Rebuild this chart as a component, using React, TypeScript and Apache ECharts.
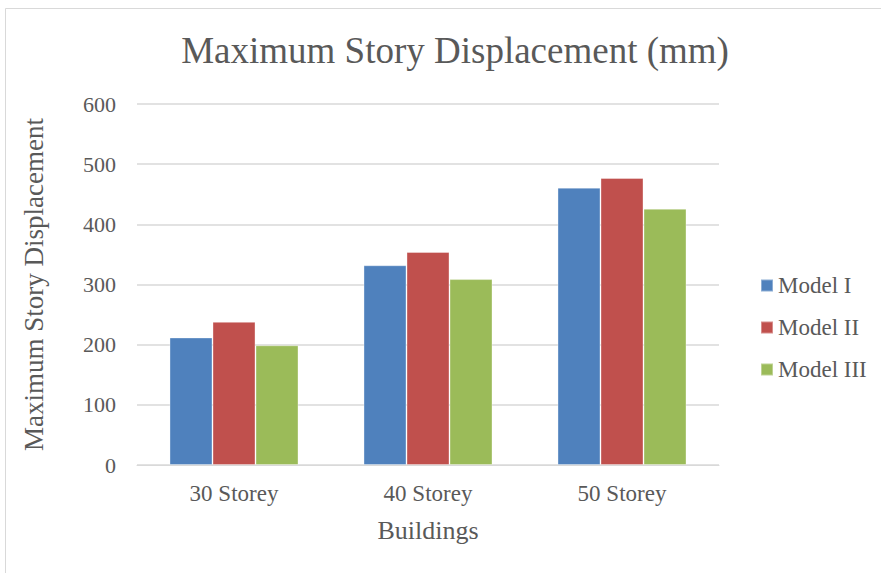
import React, { useEffect, useRef } from "react";
import * as echarts from "echarts";

const categories = ["30 Storey", "40 Storey", "50 Storey"];
const modelI = [212, 332, 461];
const modelII = [238, 354, 477];
const modelIII = [199, 309, 426];
const seriesNames = ["Model I", "Model II", "Model III"];
const colors = ["#4F81BD", "#C0504D", "#9BBB59"];

export default function App() {
  const ref = useRef<HTMLDivElement>(null);
  useEffect(() => {
    const chart = echarts.init(ref.current!, null, { renderer: "svg" });
    const font = "Liberation Serif";
    const data = [modelI, modelII, modelIII];
    chart.setOption({
      animation: false,
      backgroundColor: "#ffffff",
      textStyle: { fontFamily: font },
      title: {
        text: "Maximum Story Displacement (mm)",
        left: 450,
        textAlign: "center",
        top: 27,
        textStyle: { fontFamily: font, fontSize: 37, fontWeight: "normal", color: "#595959" },
      },
      graphic: [
        {
          type: "rect",
          shape: { x: 5.5, y: 8.5, width: 880, height: 570 },
          style: { fill: "none", stroke: "#d9d9d9", lineWidth: 1 },
          silent: true,
        },
      ],
      legend: {
        orient: "vertical",
        left: 755,
        top: 269,
        itemGap: 19,
        itemWidth: 12,
        itemHeight: 12,
        icon: "rect",
        textStyle: { fontFamily: font, fontSize: 23, color: "#595959" },
        data: seriesNames,
      },
      grid: { left: 137, right: 162, top: 104, bottom: 108, containLabel: false },
      xAxis: {
        type: "category",
        data: categories,
        name: "Buildings",
        nameLocation: "middle",
        nameGap: 52,
        nameTextStyle: { fontFamily: font, fontSize: 26, color: "#595959" },
        axisLine: { lineStyle: { color: "#d9d9d9", width: 1 } },
        axisTick: { show: false },
        axisLabel: { fontFamily: font, fontSize: 23, color: "#595959", margin: 17 },
      },
      yAxis: {
        type: "value",
        min: 0,
        max: 600,
        interval: 100,
        name: "Maximum Story Displacement",
        nameLocation: "middle",
        nameGap: 90,
        nameRotate: 90,
        nameTextStyle: { fontFamily: font, fontSize: 27, color: "#595959" },
        axisLine: { show: false },
        axisTick: { show: false },
        axisLabel: { fontFamily: font, fontSize: 22, color: "#595959", margin: 21 },
        splitLine: { lineStyle: { color: "#d9d9d9", width: 1.5 } },
      },
      series: seriesNames.map((name, i) => ({
        name,
        type: "bar",
        data: data[i],
        barGap: "0%",
        barCategoryGap: "33.5%",
        itemStyle: { color: colors[i], borderColor: "rgba(255,255,255,0.35)", borderWidth: 1 },
      })),
    });
    return () => chart.dispose();
  }, []);
  return (
    <div
      ref={ref}
      style={{ position: "absolute", left: 0, top: 0, width: 881, height: 573 }}
    />
  );
}
